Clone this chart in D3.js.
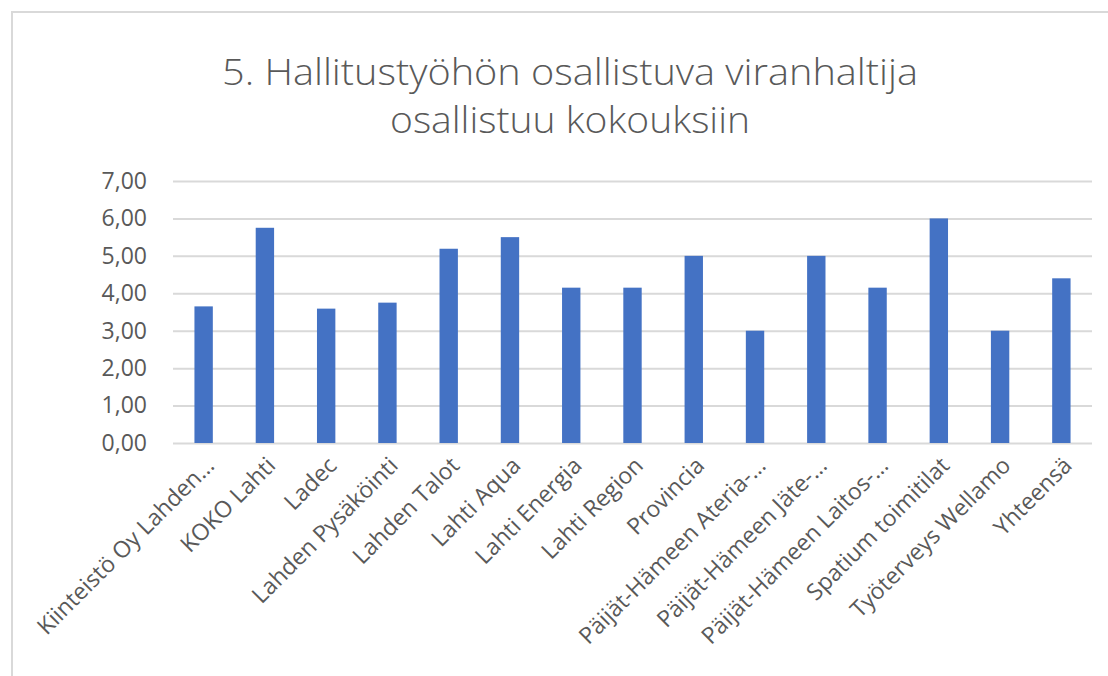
<!DOCTYPE html>
<html>
<head>
<meta charset="utf-8">
<script src="https://cdn.jsdelivr.net/npm/d3@7"></script>
<style>
  body { margin: 0; background: #fff; }
  text { font-family: "Open Sans", sans-serif; fill: #595959; }
</style>
</head>
<body>
<script>
var width = 1108,
    height = 676;

var categories = [
  "Kiinteistö Oy Lahden…", "KOKO Lahti", "Ladec", "Lahden Pysäköinti",
  "Lahden Talot", "Lahti Aqua", "Lahti Energia", "Lahti Region",
  "Provincia", "Päijät-Hämeen Ateria-…", "Päijät-Hämeen Jäte-…",
  "Päijät-Hämeen Laitos-…", "Spatium toimitilat", "Työterveys Wellamo",
  "Yhteensä"
];
var values = [3.65, 5.75, 3.59, 3.75, 5.19, 5.5, 4.15, 4.15, 5.0, 3.0, 5.0, 4.15, 6.0, 3.0, 4.4];
var yTicks = [0, 1, 2, 3, 4, 5, 6, 7];
var titleLines = ["5. Hallitustyöhön osallistuva viranhaltija", "osallistuu kokouksiin"];

var fi = d3.formatLocale({decimal: ",", thousands: " ", grouping: [3], currency: ["", "€"]});
var fmt = fi.format(".2f");

var svg = d3.select("body").append("svg")
    .attr("width", width)
    .attr("height", height);

// chart frame
svg.append("rect")
    .attr("x", 12)
    .attr("y", 12)
    .attr("width", width + 20)
    .attr("height", height + 20)
    .attr("fill", "#fff")
    .attr("stroke", "#d9d9d9")
    .attr("stroke-width", 2);

var x = d3.scaleBand()
    .domain(categories)
    .range([173, 1092])
    .paddingInner(0.7)
    .paddingOuter(0.35);

var y = d3.scaleLinear()
    .domain([0, 7])
    .range([443, 181]);

// title
svg.selectAll(".title")
    .data(titleLines)
    .enter().append("text")
    .attr("class", "title")
    .attr("x", 570)
    .attr("y", function(d, i) { return 85 + i * 48; })
    .attr("text-anchor", "middle")
    .attr("font-size", 36)
    .attr("font-weight", 300)
    .attr("textLength", function(d, i) { return i ? 360 : 696; })
    .attr("lengthAdjust", "spacingAndGlyphs")
    .text(function(d) { return d; });

// y axis + gridlines
var yAxis = svg.append("g")
    .attr("transform", "translate(173,0)")
    .call(d3.axisLeft(y)
      .tickValues(yTicks)
      .tickSize(-(1092 - 173))
      .tickPadding(26)
      .tickFormat(fmt));

yAxis.select(".domain").remove();
yAxis.selectAll("line")
    .attr("stroke", "#d9d9d9")
    .attr("stroke-width", 2);
yAxis.selectAll("text")
    .attr("font-size", 23)
    .attr("font-family", "Open Sans, sans-serif")
    .attr("fill", "#595959");

// bars
svg.selectAll(".bar")
    .data(values)
    .enter().append("rect")
    .attr("class", "bar")
    .attr("x", function(d, i) { return x(categories[i]); })
    .attr("y", function(d) { return y(d); })
    .attr("width", x.bandwidth())
    .attr("height", function(d) { return y(0) - y(d); })
    .attr("fill", "#4472c4");

// category labels
var xAxis = svg.append("g")
    .attr("transform", "translate(0,443)")
    .call(d3.axisBottom(x).tickSize(0));

xAxis.select(".domain").remove();
xAxis.selectAll("text")
    .attr("x", 0)
    .attr("y", 0)
    .attr("dy", 0)
    .attr("text-anchor", "end")
    .attr("transform", "translate(12,24) rotate(-45)")
    .attr("font-size", 23)
    .attr("font-family", "Open Sans, sans-serif")
    .attr("fill", "#595959");
</script>
</body>
</html>
